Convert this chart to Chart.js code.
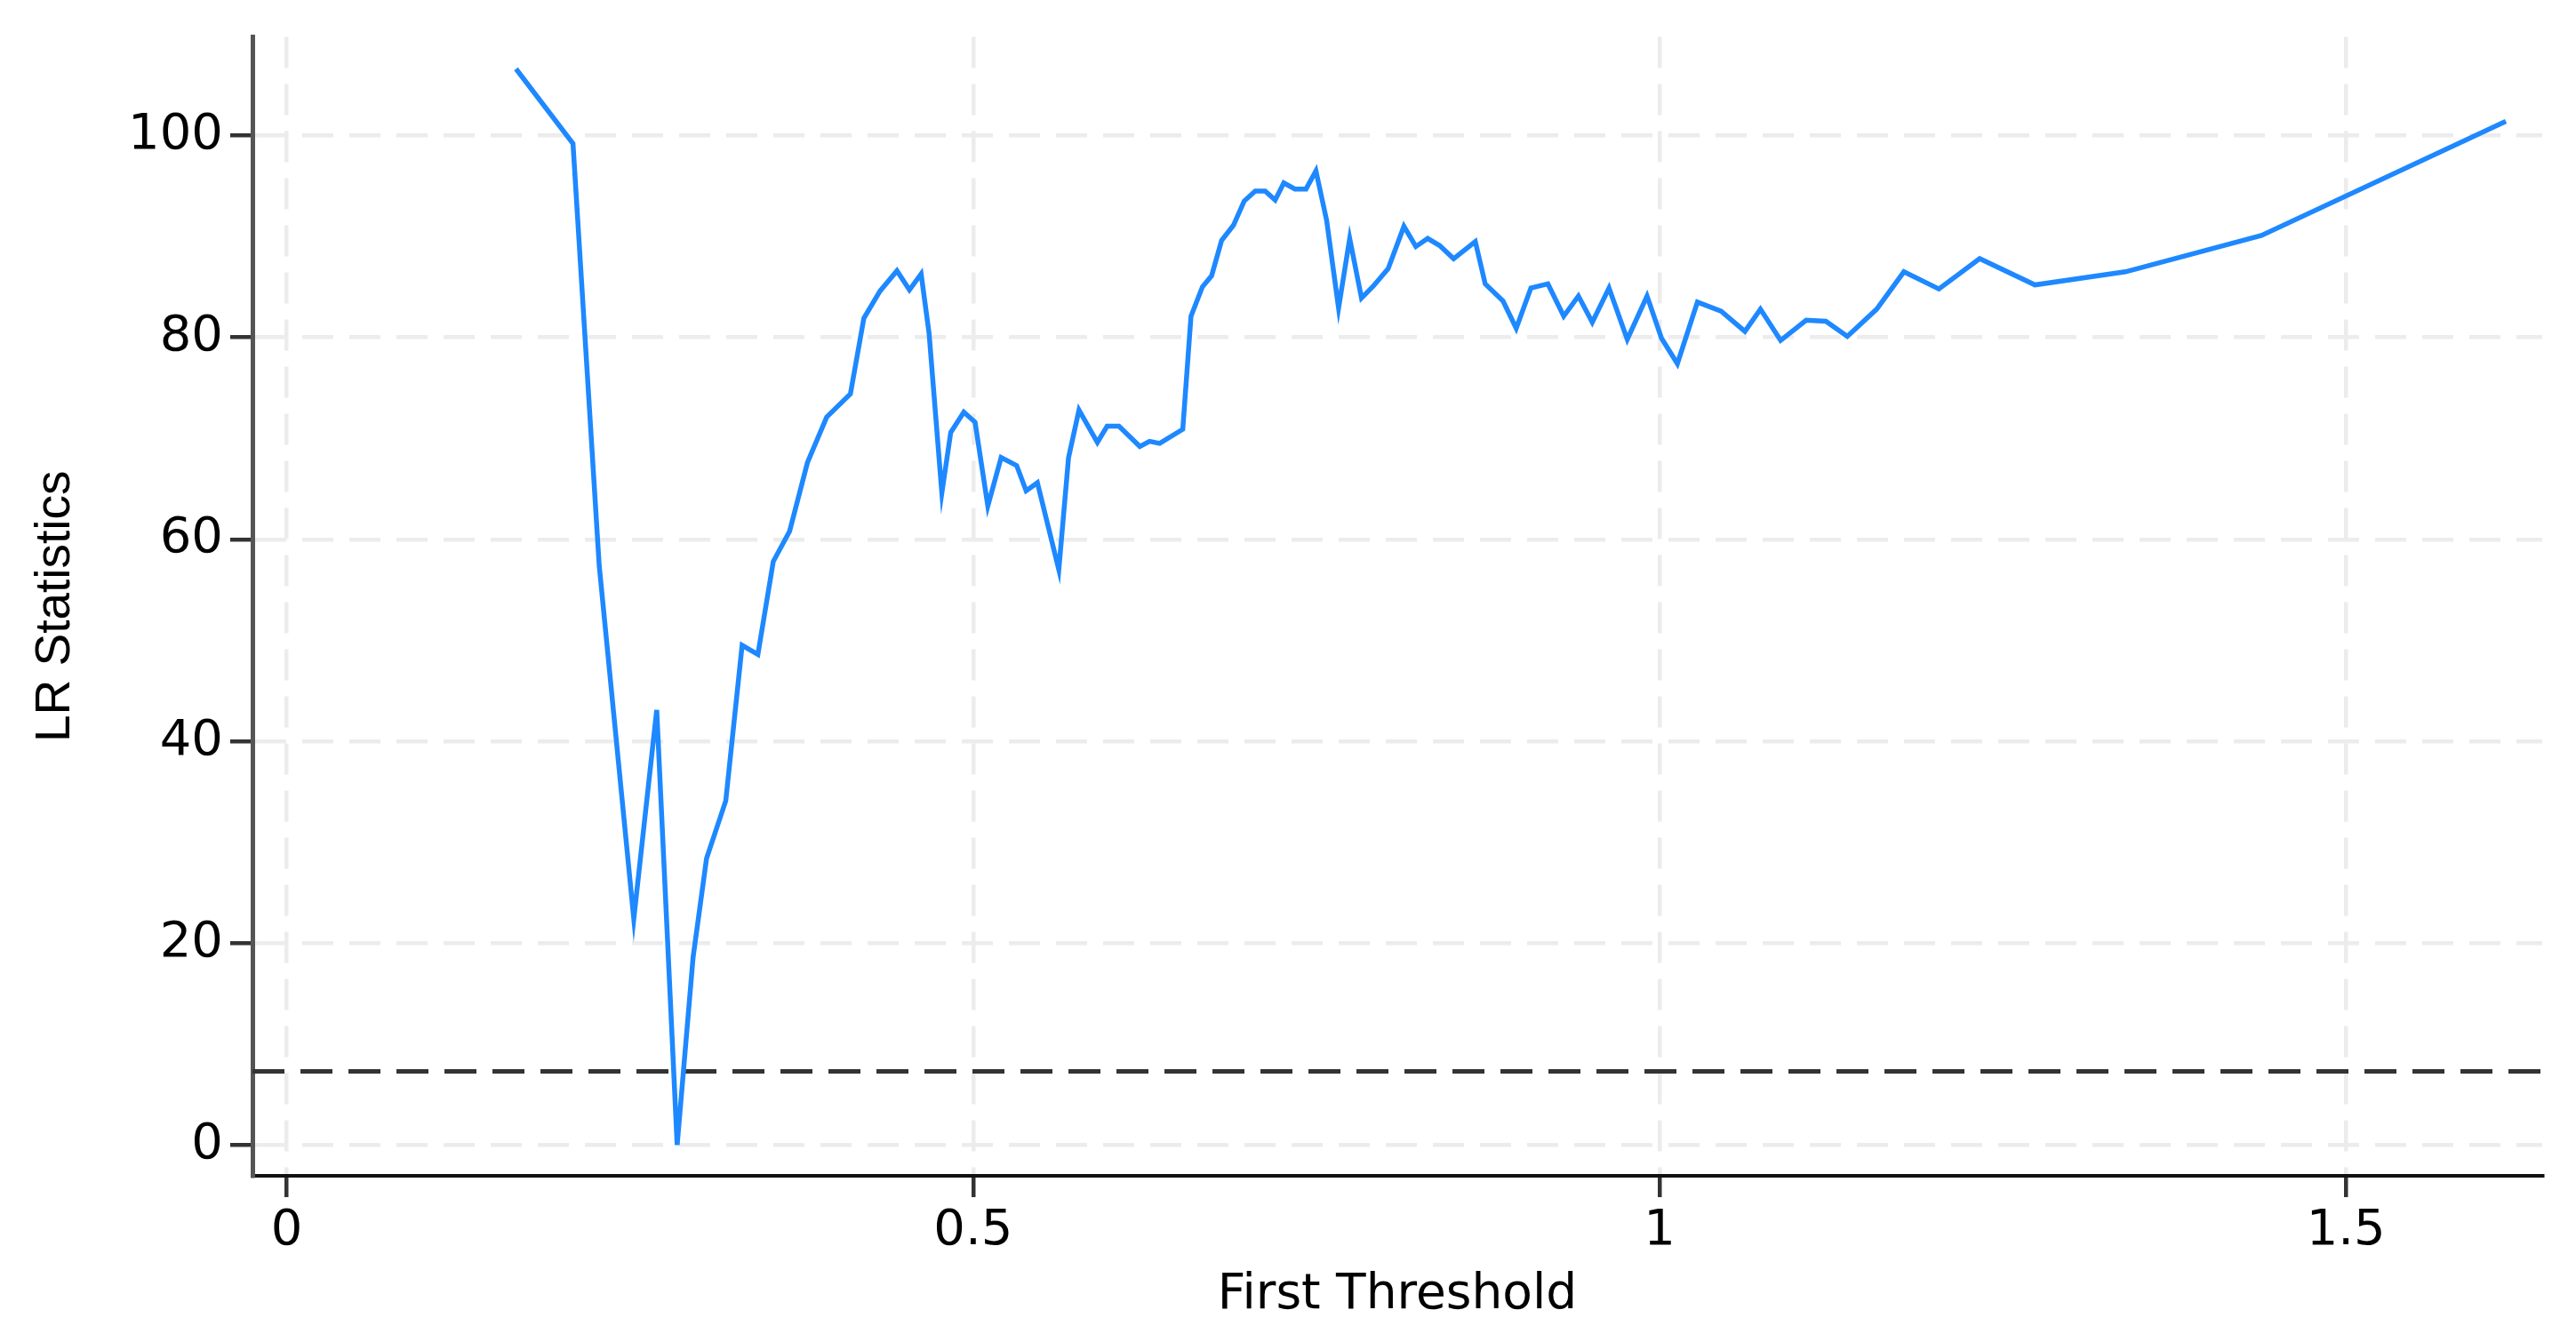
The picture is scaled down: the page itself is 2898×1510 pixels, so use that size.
<!DOCTYPE html>
<html><head><meta charset="utf-8">
<script src="https://cdn.jsdelivr.net/npm/chart.js@4/dist/chart.umd.min.js"></script>
<style>html,body{margin:0;padding:0;background:#fff;}canvas{display:block;}</style>
</head><body>
<canvas id="c" width="2898" height="1510"></canvas>
<script>
const thresholds = [0.167, 0.2085, 0.2276, 0.2528, 0.2695, 0.2844, 0.296, 0.3058, 0.3198, 0.3317,
  0.3432, 0.3544, 0.3663, 0.3793, 0.3933, 0.4106, 0.4204, 0.4322, 0.4445, 0.4536,
  0.4621, 0.4679, 0.4772, 0.4837, 0.4932, 0.5014, 0.5107, 0.5204, 0.5317, 0.5386,
  0.5468, 0.5624, 0.5695, 0.5771, 0.5905, 0.5976, 0.6062, 0.6214, 0.6285, 0.6359,
  0.6527, 0.6587, 0.667, 0.6737, 0.681, 0.6896, 0.6974, 0.7055, 0.7127, 0.72,
  0.7263, 0.7344, 0.7425, 0.7497, 0.7575, 0.7662, 0.7743, 0.7829, 0.7916, 0.8023,
  0.8138, 0.8225, 0.8311, 0.8398, 0.85, 0.8658, 0.873, 0.886, 0.8956, 0.9063,
  0.9187, 0.9302, 0.9409, 0.951, 0.9632, 0.9765, 0.9909, 1.0015, 1.013, 1.0276,
  1.0449, 1.0622, 1.0735, 1.0882, 1.1068, 1.1212, 1.1368, 1.1582, 1.178, 1.2035,
  1.2332, 1.2735, 1.3394, 1.4385, 1.6165];
const lrStats = [106.6, 99.2, 57.4, 22.4, 43.1, 0.0, 18.6, 28.4, 34.1, 49.5,
  48.6, 57.8, 60.8, 67.6, 72.1, 74.4, 81.9, 84.6, 86.6, 84.7,
  86.3, 80.4, 64.6, 70.6, 72.6, 71.6, 63.3, 68.1, 67.3, 64.8,
  65.6, 57.0, 68.1, 72.8, 69.6, 71.2, 71.2, 69.2, 69.7, 69.5,
  70.9, 82.1, 85.0, 86.1, 89.6, 91.1, 93.5, 94.5, 94.5, 93.6,
  95.3, 94.7, 94.7, 96.5, 91.6, 82.9, 89.8, 83.9, 85.1, 86.8,
  91.0, 89.0, 89.8, 89.1, 87.8, 89.5, 85.3, 83.6, 80.9, 84.9,
  85.3, 82.1, 84.1, 81.5, 84.9, 79.8, 84.1, 79.9, 77.4, 83.5,
  82.6, 80.6, 82.8, 79.7, 81.7, 81.6, 80.1, 82.8, 86.5, 84.8,
  87.8, 85.2, 86.5, 90.1, 101.4];
const criticalValue = 7.3;
const xTickValues = [0, 0.5, 1, 1.5];
const yTickValues = [0, 20, 40, 60, 80, 100];
const xRange = [-0.025, 1.643];
const yRange = [-3.05, 109.76];
const xAxisTitle = 'First Threshold';
const yAxisTitle = 'LR Statistics';

const tickFont = { family: "'DejaVu Sans', sans-serif", size: 56 };
const gridStyle = { color: '#ececec', lineWidth: 4.5, tickColor: '#333', tickWidth: 4.5, tickBorderDash: [] };

new Chart(document.getElementById('c'), {
  type: 'line',
  data: {
    datasets: [
      {
        data: thresholds.map((x, i) => ({ x: x, y: lrStats[i] })),
        borderColor: '#1E88FF', borderWidth: 5.5, pointRadius: 0, tension: 0, fill: false, order: 1
      },
      {
        data: [{ x: xRange[0], y: criticalValue }, { x: xRange[1], y: criticalValue }],
        borderColor: '#333333', borderWidth: 5, borderDash: [36, 18], pointRadius: 0, tension: 0, fill: false, order: 2
      }
    ]
  },
  options: {
    responsive: false, animation: false, devicePixelRatio: 1,
    layout: { padding: { top: 35, right: 38, left: 0, bottom: 0 } },
    plugins: { legend: { display: false }, tooltip: { enabled: false } },
    scales: {
      x: {
        type: 'linear', min: xRange[0], max: xRange[1],
        afterBuildTicks: s => { s.ticks = xTickValues.map(v => ({ value: v })); },
        afterFit: s => { s.height = 187; },
        ticks: { font: tickFont, color: '#000', padding: 5, maxRotation: 0, autoSkip: false, callback: v => String(v) },
        grid: Object.assign({ tickLength: 24 }, gridStyle),
        border: { color: '#111', width: 4, dash: [35, 18] },
        title: { display: true, text: xAxisTitle, color: '#000', font: { family: "'DejaVu Sans', sans-serif", size: 55 }, padding: { top: 0, bottom: 19 } }
      },
      y: {
        type: 'linear', min: yRange[0], max: yRange[1],
        afterBuildTicks: s => { s.ticks = yTickValues.map(v => ({ value: v })); },
        afterFit: s => { s.width = 284; },
        ticks: { font: tickFont, color: '#000', padding: 8, autoSkip: false, callback: v => String(v) },
        grid: Object.assign({ tickLength: 25 }, gridStyle),
        border: { color: '#555', width: 5, dash: [35, 18] },
        title: { display: true, text: yAxisTitle, color: '#000', font: { family: "'Liberation Sans', Arial, sans-serif", size: 55 }, padding: { top: 30, bottom: 0 } }
      }
    }
  }
});
</script>
</body></html>
